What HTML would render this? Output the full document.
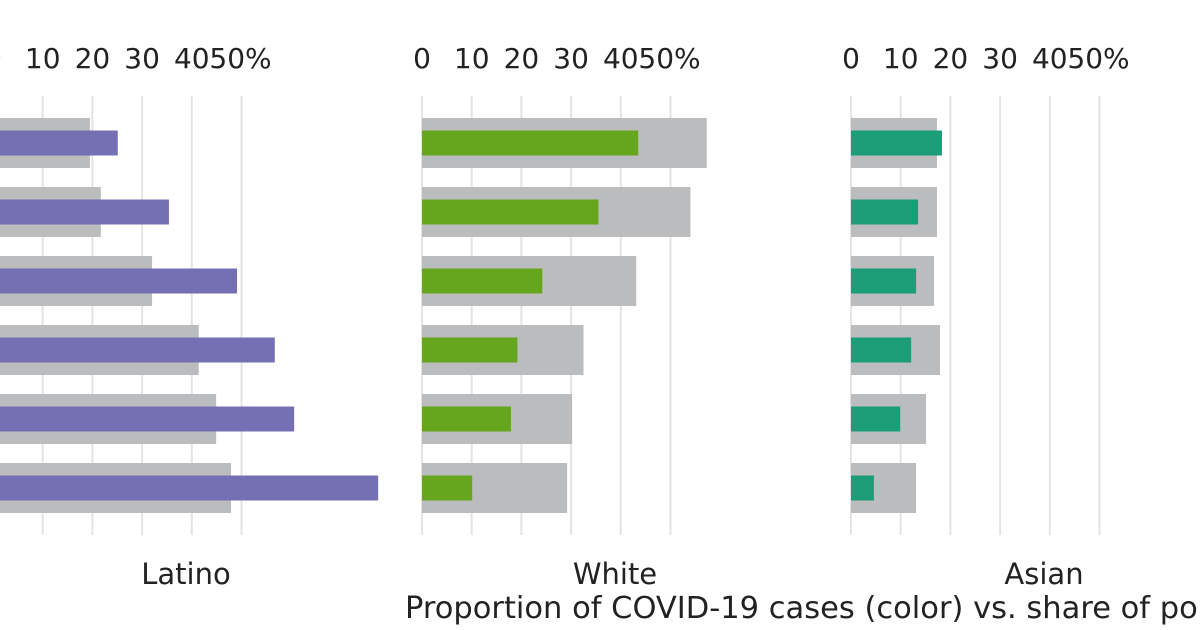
<!DOCTYPE html>
<html><head><meta charset="utf-8"><style>
html,body{margin:0;padding:0;background:#fff;width:1200px;height:630px;overflow:hidden}
text{font-family:"DejaVu Sans",sans-serif;fill:#222}
</style></head><body>
<svg id="chart" width="1200" height="630"></svg>
<script>
const panels = ["Latino","White","Asian"];
const ticks = [0,10,20,30,40,50];
const tickLabels = ["0","10","20","30","40","50%"];
const latinoPop = [19.5,21.7,32,41.4,44.9,47.9];
const latinoCases = [25.1,35.4,49.1,56.7,60.6,77.5];
const whitePop = [57.3,54,43.1,32.5,30.2,29.2];
const whiteCases = [43.5,35.5,24.2,19.2,17.9,10.1];
const asianPop = [17.3,17.3,16.7,17.9,15.1,13.1];
const asianCases = [18.3,13.5,13.1,12.1,9.9,4.6];
const pops = [latinoPop, whitePop, asianPop];
const cases = [latinoCases, whiteCases, asianCases];
const colors = ["#7570b3","#66a61e","#1b9e77"];
const origins = [-7,422,851];
const labelX = [186,615,1044];
const NS="http://www.w3.org/2000/svg";
const svg=document.getElementById('chart');
function mk(t,a){const e=document.createElementNS(NS,t);for(const k in a)e.setAttribute(k,a[k]);svg.appendChild(e);return e;}
const pxPer = 4.97;
function xs(p,v){return origins[p]+v*pxPer;}
function ys(i){return 143+i*69;}
panels.forEach((name,p)=>{
  ticks.forEach((t,k)=>{
    const g=mk('line',{x1:xs(p,t),x2:xs(p,t),y1:96,y2:535,stroke:'#e3e3e3','stroke-width':2});
    
    
    const tx=mk('text',{x:xs(p,t),y:68,'font-size':28,'text-anchor':'middle'});
    tx.textContent=tickLabels[k];
    if(k===5){tx.setAttribute('x',xs(p,t)-1);}
    
    
  });
  pops[p].forEach((v,i)=>{
    const r=mk('rect',{x:xs(p,0),y:ys(i)-25,width:xs(p,v)-xs(p,0),height:50,fill:'#bbbcbe'});
    
    
  });
  cases[p].forEach((v,i)=>{
    const r=mk('rect',{x:xs(p,0),y:ys(i)-12.5,width:xs(p,v)-xs(p,0),height:25,fill:colors[p]});
    
    
  });
  const lb=mk('text',{x:labelX[p],y:584,'font-size':29,'text-anchor':'middle'});
  lb.textContent=name;
  
  
});
const at=mk('text',{x:405,y:618,'font-size':30.5});
at.textContent="Proportion of COVID-19 cases (color) vs. share of population (gray)";


</script>
</body></html>
